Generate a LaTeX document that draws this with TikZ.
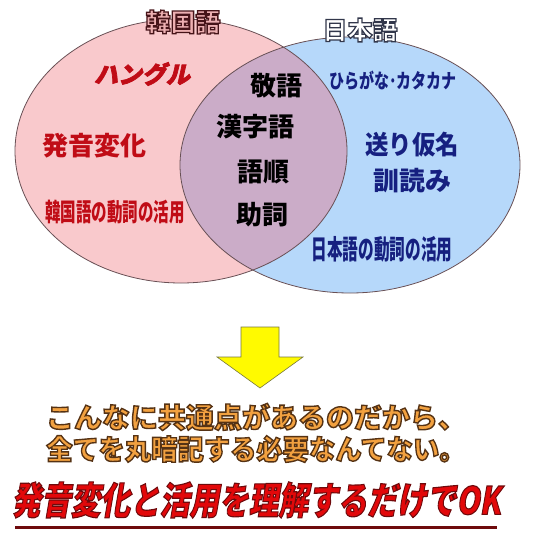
\documentclass[tikz,border=0pt]{standalone}
\usepackage{fontspec}
\usepackage{graphicx}
\usepackage{tikz}
\usetikzlibrary{positioning}

\newfontfamily\jp{Noto Sans CJK JP}
\newfontfamily\jpsl{Noto Sans CJK JP}[FakeSlant=0.22, FakeBold=3]
\newfontfamily\jpout{Noto Sans CJK JP}[FakeBold=5]
% fill colour, stroke colour, text
\newcommand\outlined[3]{\special{pdf:bcolor [#1] [#2]}#3\special{pdf:ecolor}}

\definecolor{pinkfill}{RGB}{249,201,204}
\definecolor{bluefill}{RGB}{182,216,250}
\definecolor{mixfill}{RGB}{203,172,200}
\definecolor{vennedge}{RGB}{105,80,85}
\definecolor{korred}{RGB}{192,12,22}
\definecolor{jpnavy}{RGB}{22,32,128}
\definecolor{okedge}{RGB}{110,10,12}
\definecolor{arrowyellow}{RGB}{255,250,0}
\definecolor{arrowedge}{RGB}{120,120,60}

\tikzset{
  vennline/.style={draw=vennedge, line width=0.8pt},
  kortext/.style={font=\jp\bfseries\fontsize{26}{26}\selectfont, text=korred, inner sep=0pt},
  jptext/.style={font=\jp\bfseries\fontsize{26}{26}\selectfont, text=jpnavy, inner sep=0pt},
  commontext/.style={font=\jp\bfseries\fontsize{26}{26}\selectfont, text=black, inner sep=0pt},
  titletext/.style={font=\jpout\bfseries\fontsize{25}{25}\selectfont, inner sep=0pt},
  msgtext/.style={font=\jpout\bfseries\fontsize{28}{28}\selectfont, inner sep=0pt},
  oktext/.style={font=\jpsl\bfseries\fontsize{38}{38}\selectfont, inner sep=0pt}
}

\begin{document}
\begin{tikzpicture}[x=1pt, y=-1pt]
\useasboundingbox (0,0) rectangle (538,533);

% venn
\coordinate (kc) at (181,151);
\coordinate (jc) at (350,165);
\fill[pinkfill] (kc) ellipse [x radius=166, y radius=132];
\fill[bluefill] (jc) ellipse [x radius=170, y radius=128];
\begin{scope}
  \clip (kc) ellipse [x radius=166, y radius=132];
  \fill[mixfill] (jc) ellipse [x radius=170, y radius=128];
\end{scope}
\draw[vennline] (kc) ellipse [x radius=166, y radius=132];
\draw[vennline] (jc) ellipse [x radius=170, y radius=128];

\node (kor) at (183,22) [titletext] {\outlined{0.93 0.69 0.70}{0.275 0.078 0.098}{韓国語}};
\node (jpn) at (360,30) [titletext] {\outlined{1 1 1}{0.196 0.216 0.294}{日本語}};

\node (hangul) at (142,74) [kortext, font=\jpsl\bfseries\fontsize{24}{24}\selectfont] {ハングル};
\node (hatsuon) at (94,146) [kortext] {発音変化};
\node (korverb) at (115,212) [kortext, font=\jp\bfseries\fontsize{25}{25}\selectfont] {\scalebox{0.62}[1]{韓国語の動詞の活用}};

\node (keigo) at (276,86) [commontext] {敬語};
\node (kanji) at (255,127) [commontext] {漢字語};
\node (gojun) at (263,172) [commontext] {語順};
\node (joshi) at (262,215) [commontext] {助詞};

\node (kana) at (393,81) [jptext, font=\jp\bfseries\fontsize{20}{20}\selectfont] {\scalebox{0.75}[1]{ひらがな･カタカナ}};
\node (okuri) at (412,145) [jptext] {\scalebox{0.9}[1]{送り仮名}};
\node (kun) at (412,181) [jptext] {訓読み};
\node (jpverb) at (382,249) [jptext, font=\jp\bfseries\fontsize{27}{27}\selectfont] {\scalebox{0.58}[1]{日本語の動詞の活用}};

% arrow
\fill[arrowyellow, draw=arrowedge, line width=0.6pt]
  (241,327) -- (279,327) -- (279,357) -- (303,357) -- (260,388)
  -- (217,357) -- (241,357) -- cycle;

\node (msg1) at (256,417) [msgtext] {\outlined{0.95 0.63 0.25}{0.333 0.196 0.078}{こんなに共通点があるのだから、}};
\node (msg2) at (256,449) [msgtext] {\outlined{0.95 0.63 0.25}{0.333 0.196 0.078}{\scalebox{0.94}[1]{全てを丸暗記する必要なんてない。}}};
\node (ok) at (256,500) [oktext] {\outlined{0.886 0.031 0.039}{0.431 0.039 0.047}{\scalebox{0.78}[1]{発音変化と活用を理解するだけでOK}}};

\coordinate (ulA) at (15,527);
\coordinate (ulB) at (497,527);
\draw[okedge, line width=3pt] (ulA) -- (ulB);
\end{tikzpicture}
\end{document}
